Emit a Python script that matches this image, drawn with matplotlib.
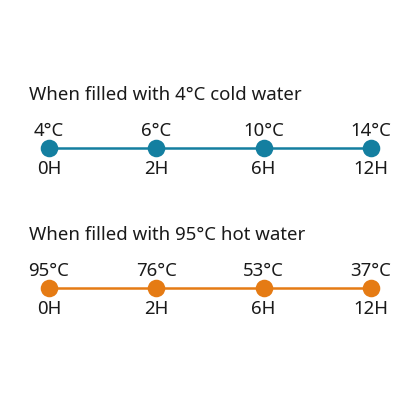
import matplotlib
matplotlib.use("Agg")
import matplotlib.pyplot as plt

hours = ["0H", "2H", "6H", "12H"]
cold_temps = [4, 6, 10, 14]
hot_temps = [95, 76, 53, 37]

rows = [
    ("When filled with 4°C cold water", cold_temps, "#147fa0", 148),
    ("When filled with 95°C hot water", hot_temps, "#e57b14", 288),
]

plt.rcParams["font.family"] = ["Noto Sans", "DejaVu Sans"]

fig = plt.figure(figsize=(4.2, 4.2), dpi=100)
ax = fig.add_axes([0, 0, 1, 1])
ax.set_xlim(-0.457, 3.457)
ax.set_ylim(420, 0)
ax.axis("off")

xs = list(range(len(hours)))
for title, temps, color, y in rows:
    ax.text(29 / 107.3 - 0.457, y - 53, title, fontsize=13.4, color="#1a1a1a",
            ha="left", va="center")
    ax.plot(xs, [y] * len(xs), color=color, lw=1.8, zorder=1)
    ax.scatter(xs, [y] * len(xs), s=160, color=color, zorder=2, linewidths=0)
    for x, t, h in zip(xs, temps, hours):
        ax.text(x, y - 17, f"{t}°C", fontsize=13.4, color="#1a1a1a", ha="center", va="center")
        ax.text(x, y + 21, h, fontsize=13.4, color="#1a1a1a", ha="center", va="center")

fig.savefig("out.png", dpi=100, facecolor="white")
